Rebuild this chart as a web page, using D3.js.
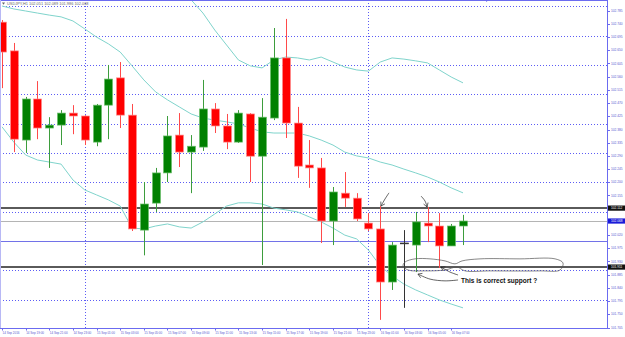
<!DOCTYPE html>
<html lang="en">
<head>
<meta charset="utf-8">
<title>USDJPY,H1</title>
<script src="https://cdn.jsdelivr.net/npm/d3@7"></script>
<style>
    html, body { margin: 0; padding: 0; background: #fff; }
    svg { display: block; }
    text { font-family: "Liberation Sans", Arial, sans-serif; }
</style>
</head>
<body>
<div id="chart"></div>
<script>
// hourly bars, USDJPY H1
const times = [
    '14 Sep 17:00', '14 Sep 18:00', '14 Sep 19:00', '14 Sep 20:00', '14 Sep 21:00', '14 Sep 22:00', '14 Sep 23:00',
    '15 Sep 00:00', '15 Sep 01:00', '15 Sep 02:00', '15 Sep 03:00', '15 Sep 04:00', '15 Sep 05:00', '15 Sep 06:00',
    '15 Sep 07:00', '15 Sep 08:00', '15 Sep 09:00', '15 Sep 10:00', '15 Sep 11:00', '15 Sep 12:00', '15 Sep 13:00',
    '15 Sep 14:00', '15 Sep 15:00', '15 Sep 16:00', '15 Sep 17:00', '15 Sep 18:00', '15 Sep 19:00', '15 Sep 20:00',
    '15 Sep 21:00', '15 Sep 22:00', '15 Sep 23:00', '16 Sep 00:00', '16 Sep 01:00', '16 Sep 02:00', '16 Sep 03:00',
    '16 Sep 04:00', '16 Sep 05:00', '16 Sep 06:00', '16 Sep 07:00', '16 Sep 08:00'
];
const opens = [102.746, 102.648, 102.344, 102.484, 102.385, 102.395, 102.436, 102.426, 102.337, 102.463,
    102.556, 102.429, 102.037, 102.129, 102.232, 102.361, 102.303, 102.320, 102.450, 102.392,
    102.337, 102.433, 102.289, 102.419, 102.624, 102.402, 102.259, 102.249, 102.068, 102.163,
    102.146, 102.061, 102.041, 101.860, 101.993, 101.986, 102.061, 102.051, 101.983, 102.051];
const highs = [102.753, 102.675, 102.491, 102.545, 102.422, 102.446, 102.463, 102.429, 102.467, 102.600,
    102.610, 102.467, 102.201, 102.249, 102.426, 102.436, 102.361, 102.549, 102.470, 102.433,
    102.446, 102.436, 102.487, 102.726, 102.757, 102.457, 102.344, 102.283, 102.184, 102.235,
    102.163, 102.095, 102.119, 101.996, 102.037, 102.099, 102.116, 102.095, 102.058, 102.089];
const lows = [102.521, 102.303, 102.300, 102.347, 102.249, 102.327, 102.364, 102.327, 102.323, 102.347,
    102.385, 102.034, 101.951, 102.099, 102.201, 102.252, 102.163, 102.307, 102.368, 102.313,
    102.334, 102.201, 101.918, 102.412, 102.351, 102.215, 102.181, 101.993, 101.986, 102.116,
    102.068, 102.034, 101.731, 101.833, 101.772, 101.894, 101.996, 101.908, 101.983, 101.986];
const closes = [102.644, 102.347, 102.484, 102.385, 102.395, 102.436, 102.426, 102.344, 102.463, 102.552,
    102.429, 102.041, 102.126, 102.232, 102.358, 102.303, 102.323, 102.450, 102.392, 102.337,
    102.436, 102.289, 102.422, 102.624, 102.402, 102.255, 102.249, 102.068, 102.167, 102.146,
    102.075, 102.041, 101.860, 101.986, 101.993, 102.065, 102.051, 101.983, 102.051, 102.068];

// Bollinger bands
const bbUpper = [103.214, 103.244, 103.275, 103.278, 103.272, 103.265, 103.292, 103.272, 103.234, 103.203,
    103.169, 103.149, 103.057, 102.965, 102.903, 102.866, 102.822, 102.777, 102.719, 102.668,
    102.617, 102.597, 102.590, 102.617, 102.627, 102.624, 102.617, 102.627, 102.610, 102.593,
    102.583, 102.579, 102.610, 102.624, 102.620, 102.614, 102.607, 102.583, 102.559, 102.539];
const bbMiddle = [102.801, 102.791, 102.784, 102.777, 102.770, 102.764, 102.750, 102.723, 102.695, 102.672,
    102.644, 102.597, 102.549, 102.508, 102.481, 102.457, 102.433, 102.419, 102.412, 102.406,
    102.399, 102.385, 102.372, 102.368, 102.368, 102.368, 102.358, 102.344, 102.327, 102.303,
    102.290, 102.283, 102.269, 102.259, 102.245, 102.232, 102.218, 102.201, 102.181, 102.164];
const bbLower = [102.389, 102.337, 102.293, 102.276, 102.269, 102.262, 102.208, 102.174, 102.157, 102.140,
    102.119, 102.044, 102.041, 102.051, 102.058, 102.048, 102.044, 102.065, 102.092, 102.119,
    102.130, 102.130, 102.126, 102.112, 102.106, 102.099, 102.082, 102.065, 102.044, 102.020,
    102.007, 101.969, 101.915, 101.881, 101.853, 101.833, 101.816, 101.799, 101.785, 101.772];

const priceTicks = [102.785, 102.740, 102.695, 102.650, 102.605, 102.560, 102.515, 102.470, 102.425, 102.380,
    102.335, 102.290, 102.245, 102.200, 102.155, 102.110, 102.065, 102.020, 101.975, 101.930,
    101.885, 101.840, 101.795, 101.750, 101.705];
const gridLevels = [102.8, 102.7, 102.6, 102.5, 102.4, 102.3, 102.2, 102.1, 101.9, 101.8];
const dayBreaks = ['15 Sep 00:00', '16 Sep 00:00'];
const roundLevel = 102.0;
const drawnLevels = [102.112, 101.911];
const bidPrice = 102.068;

// hand drawn notes: [bar, price]
const arrowA = [[32.74, 102.164], [32.40, 102.143], [32.06, 102.119]];
const arrowB = [[35.45, 102.153], [35.79, 102.136], [35.96, 102.116]];
const arrowC = [[38.58, 101.867], [37.48, 101.864], [36.21, 101.870], [35.19, 101.887]];
const arrowD = [[38.58, 101.884], [37.90, 101.894], [37.14, 101.911]];
const loopPts = [[34.09, 101.928], [34.94, 101.939], [36.21, 101.939], [37.48, 101.932], [38.32, 101.922],
    [38.92, 101.932], [40.44, 101.939], [43.82, 101.939], [46.79, 101.939], [47.46, 101.925],
    [47.21, 101.901], [45.52, 101.898], [41.29, 101.898], [39.17, 101.898], [38.49, 101.911],
    [37.48, 101.901], [35.79, 101.898], [34.35, 101.901], [33.93, 101.915]];
const noteText = 'This is correct support ?';
const notePos = [38.83, 101.857];

(() => {
    const width = 625, height = 337;
    const plotRight = 607, plotBottom = 328;
    const axisColor = '#6b6bf0';
    const labelColor = '#5858d0';
    const crisp = v => Math.round(v) + 0.5;

    const svg = d3.select('#chart').append('svg')
        .attr('width', width).attr('height', height);

    const x = d3.scaleLinear().domain([0, times.length - 1]).range([2, 463]);
    const y = d3.scaleLinear().domain([d3.min(priceTicks), d3.max(priceTicks)]).range([327.5, 10.7]);

    svg.append('defs').append('clipPath').attr('id', 'plot')
        .append('rect').attr('x', 0).attr('y', 0).attr('width', plotRight).attr('height', plotBottom);

    const plot = svg.append('g').attr('clip-path', 'url(#plot)');

    /* grid */
    plot.append('g').selectAll('line').data(gridLevels).enter().append('line')
        .attr('x1', 0).attr('x2', plotRight)
        .attr('y1', d => crisp(y(d))).attr('y2', d => crisp(y(d)))
        .attr('stroke', '#5c5cf5').attr('stroke-dasharray', '1,2');
    plot.append('g').selectAll('line').data(dayBreaks).enter().append('line')
        .attr('x1', d => crisp(x(times.indexOf(d)))).attr('x2', d => crisp(x(times.indexOf(d))))
        .attr('y1', 0).attr('y2', plotBottom)
        .attr('stroke', '#5c5cf5').attr('stroke-dasharray', '1,2');

    /* horizontal levels */
    plot.append('line')
        .attr('x1', 0).attr('x2', plotRight)
        .attr('y1', crisp(y(roundLevel))).attr('y2', crisp(y(roundLevel)))
        .attr('stroke', '#7272e8');
    plot.append('line')
        .attr('x1', 0).attr('x2', plotRight)
        .attr('y1', crisp(y(bidPrice))).attr('y2', crisp(y(bidPrice)))
        .attr('stroke', '#b4b4b4');
    plot.append('g').selectAll('line').data(drawnLevels).enter().append('line')
        .attr('x1', 0).attr('x2', plotRight)
        .attr('y1', d => Math.round(y(d))).attr('y2', d => Math.round(y(d)))
        .attr('stroke', '#5a5a5a').attr('stroke-width', 2);

    /* bollinger bands */
    const band = d3.line().x((d, i) => x(i)).y(d => y(d));
    [bbUpper, bbMiddle, bbLower].forEach(series => {
        plot.append('path').datum(series)
            .attr('d', band)
            .attr('fill', 'none')
            .attr('stroke', '#7fd4cc')
            .attr('stroke-width', 1);
    });

    /* candles */
    const bars = times.map((t, i) => ({i, o: opens[i], h: highs[i], l: lows[i], c: closes[i]}));
    const kind = d => d.c > d.o ? 'up' : (d.c < d.o ? 'down' : 'flat');
    const wickColor = {up: '#3d9d3d', down: '#ff4a4a', flat: '#333'};
    const bodyColor = {up: '#008000', down: '#ff0000', flat: '#333'};
    const edgeColor = {up: '#6cbf6c', down: '#ff8c8c', flat: '#333'};

    const candle = plot.append('g').selectAll('g').data(bars).enter().append('g');
    candle.append('line')
        .attr('x1', d => crisp(x(d.i))).attr('x2', d => crisp(x(d.i)))
        .attr('y1', d => y(d.h)).attr('y2', d => y(d.l))
        .attr('stroke', d => wickColor[kind(d)]);
    candle.append('rect')
        .attr('x', d => Math.round(x(d.i)) - 4 + 0.5)
        .attr('y', d => y(Math.max(d.o, d.c)))
        .attr('width', 8)
        .attr('height', d => Math.max(0.8, Math.abs(y(d.o) - y(d.c))))
        .attr('fill', d => bodyColor[kind(d)])
        .attr('stroke', d => edgeColor[kind(d)])
        .attr('stroke-width', 0.7);

    /* notes */
    const notes = svg.append('g').attr('fill', 'none').attr('stroke', '#222').attr('stroke-width', 0.7);
    const pt = d => [x(d[0]), y(d[1])];
    const freehand = d3.line().curve(d3.curveCatmullRom.alpha(0.5));
    [arrowA, arrowB, arrowC, arrowD].forEach(a => {
        const p = a.map(pt);
        notes.append('path').attr('d', freehand(p));
        const tip = p[p.length - 1], prev = p[p.length - 2];
        const ang = Math.atan2(tip[1] - prev[1], tip[0] - prev[0]);
        [-0.55, 0.55].forEach(s => {
            notes.append('line')
                .attr('x1', tip[0]).attr('y1', tip[1])
                .attr('x2', tip[0] - 4.5 * Math.cos(ang + s))
                .attr('y2', tip[1] - 4.5 * Math.sin(ang + s));
        });
    });
    notes.append('path')
        .attr('d', d3.line().curve(d3.curveCatmullRomClosed.alpha(0.5))(loopPts.map(pt)))
        .attr('stroke', '#555');
    svg.append('text')
        .attr('x', x(notePos[0])).attr('y', y(notePos[1]))
        .attr('font-size', 6.5).attr('font-weight', 'bold').attr('fill', '#111')
        .text(noteText);

    /* frame */
    svg.append('line').attr('x1', 0).attr('x2', plotRight).attr('y1', 0.5).attr('y2', 0.5).attr('stroke', axisColor);
    svg.append('line').attr('x1', 0.5).attr('x2', 0.5).attr('y1', 0).attr('y2', plotBottom).attr('stroke', '#b8b8f5');
    svg.append('line').attr('x1', crisp(plotRight)).attr('x2', crisp(plotRight)).attr('y1', 0).attr('y2', plotBottom + 1).attr('stroke', axisColor);
    svg.append('line').attr('x1', 0).attr('x2', plotRight + 1).attr('y1', crisp(plotBottom)).attr('y2', crisp(plotBottom)).attr('stroke', axisColor);

    // chart shift marker
    svg.append('path')
        .attr('d', `M${x(41) - 1.5},0 L${x(41) + 1.5},0 L${x(41)},2 Z`)
        .attr('fill', axisColor);

    /* price axis */
    const yAxis = svg.append('g');
    yAxis.selectAll('line').data(priceTicks).enter().append('line')
        .attr('x1', plotRight).attr('x2', plotRight + 3)
        .attr('y1', d => crisp(y(d))).attr('y2', d => crisp(y(d)))
        .attr('stroke', axisColor);
    yAxis.selectAll('text').data(priceTicks).enter().append('text')
        .attr('x', plotRight + 4).attr('y', d => y(d) + 1.1)
        .attr('font-size', 3.2).attr('fill', labelColor)
        .text(d => d.toFixed(3));

    const tag = (price, bg) => {
        const g = svg.append('g');
        g.append('rect')
            .attr('x', plotRight + 1).attr('y', y(price) - 2.6)
            .attr('width', width - plotRight - 1).attr('height', 5.2)
            .attr('fill', bg);
        g.append('text')
            .attr('x', plotRight + 4).attr('y', y(price) + 1.1)
            .attr('font-size', 3.2).attr('fill', '#fff')
            .text(price.toFixed(3));
    };
    drawnLevels.forEach(p => tag(p, '#111'));
    tag(bidPrice, '#1a1ad8');

    /* time axis */
    const timeTicks = times.filter((t, i) => i % 2 === 0);
    const xAxis = svg.append('g');
    xAxis.selectAll('line').data(timeTicks).enter().append('line')
        .attr('x1', d => crisp(x(times.indexOf(d)))).attr('x2', d => crisp(x(times.indexOf(d))))
        .attr('y1', plotBottom).attr('y2', plotBottom + 2.5)
        .attr('stroke', axisColor);
    xAxis.selectAll('text').data(timeTicks).enter().append('text')
        .attr('x', d => x(times.indexOf(d)) + 0.5).attr('y', plotBottom + 6)
        .attr('font-size', 3).attr('fill', labelColor)
        .text((d, i) => i === 0 ? '14 Sep 2016' : d);

    /* header */
    const last = bars[bars.length - 1];
    svg.append('path').attr('d', 'M2,2.5 L5,2.5 L3.5,4.8 Z').attr('fill', '#666');
    svg.append('text')
        .attr('x', 7).attr('y', 5.3)
        .attr('font-size', 3.9).attr('fill', '#666')
        .text(`USDJPY,H1  ${[last.o, last.h, last.l, last.c].map(v => v.toFixed(3)).join(' ')}`);
})();
</script>
</body>
</html>
